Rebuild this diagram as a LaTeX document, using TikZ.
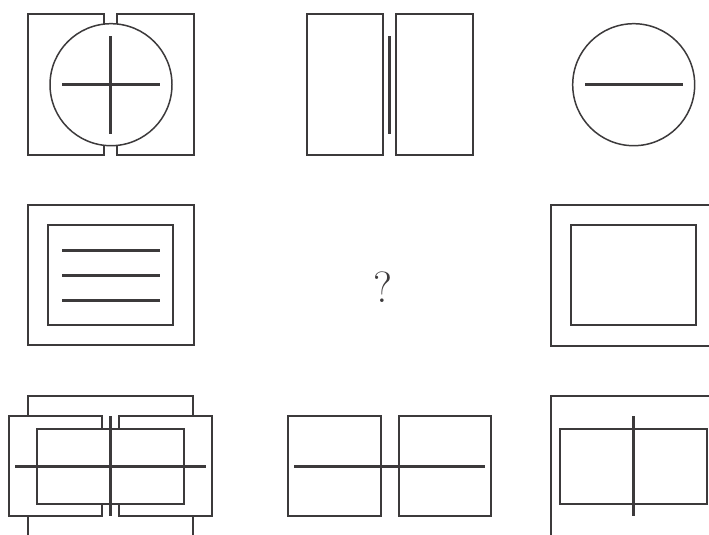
\documentclass[tikz,border=0pt]{standalone}
\usepackage{tikz}
\usepackage{xcolor}
\definecolor{ink}{HTML}{3C3A3B}

\begin{document}
\begin{tikzpicture}[x=0.02cm,y=-0.02cm,
  frame/.style={draw=ink,line width=1pt,fill=white},
  ring/.style={draw=ink,line width=0.85pt,fill=white},
  bar/.style={draw=ink,line width=1.5pt}]
\useasboundingbox (0,0) rectangle (709,534);
\clip (0,0) rectangle (709,534);
% row 1
\draw[frame] (27.7,14.3) rectangle (104.3,155);
\draw[frame] (116.7,14.3) rectangle (193.7,155);
\draw[ring] (111,84.7) circle (61);
\draw[bar] (62,84.3) -- (160,84.3);
\draw[bar] (110.3,36) -- (110.3,133.7);
\draw[frame] (307,14.3) rectangle (383.3,155);
\draw[frame] (396,14.3) rectangle (472.7,155);
\draw[bar] (389.3,36) -- (389.3,133.7);
\draw[ring] (633.7,84.7) circle (61);
\draw[bar] (585,84.3) -- (683.3,84.3);
% row 2
\draw[frame] (27.7,205) rectangle (193.7,345.3);
\draw[frame] (48.3,225) rectangle (173,325.3);
\foreach \y in {250.3,275.3,300.3}
  \draw[bar] (62,\y) -- (160,\y);
\node[text=ink,font=\Huge] (qmark) at (383.3,286.7) {?};
\draw[frame] (551,205) rectangle (730,345.7);
\draw[frame] (571,225.3) rectangle (696.3,325.3);
% row 3
\draw[frame] (27.7,395.7) rectangle (193.3,560);
\draw[frame] (9,416.3) rectangle (101.7,516.3);
\draw[frame] (119.3,416.3) rectangle (212,516.3);
\draw[frame] (37,429) rectangle (184.3,503.7);
\draw[bar] (15,466.7) -- (206,466.7);
\draw[bar] (110.3,416) -- (110.3,515.7);
\draw[frame] (288.3,416.3) rectangle (381,516.3);
\draw[frame] (399,416.3) rectangle (491.3,516.3);
\draw[bar] (294,466.7) -- (485,466.7);
\draw[frame] (551,395.7) rectangle (730,560);
\draw[frame] (560,429) rectangle (707,503.7);
\draw[bar] (633.3,416) -- (633.3,515.7);
\end{tikzpicture}
\end{document}
